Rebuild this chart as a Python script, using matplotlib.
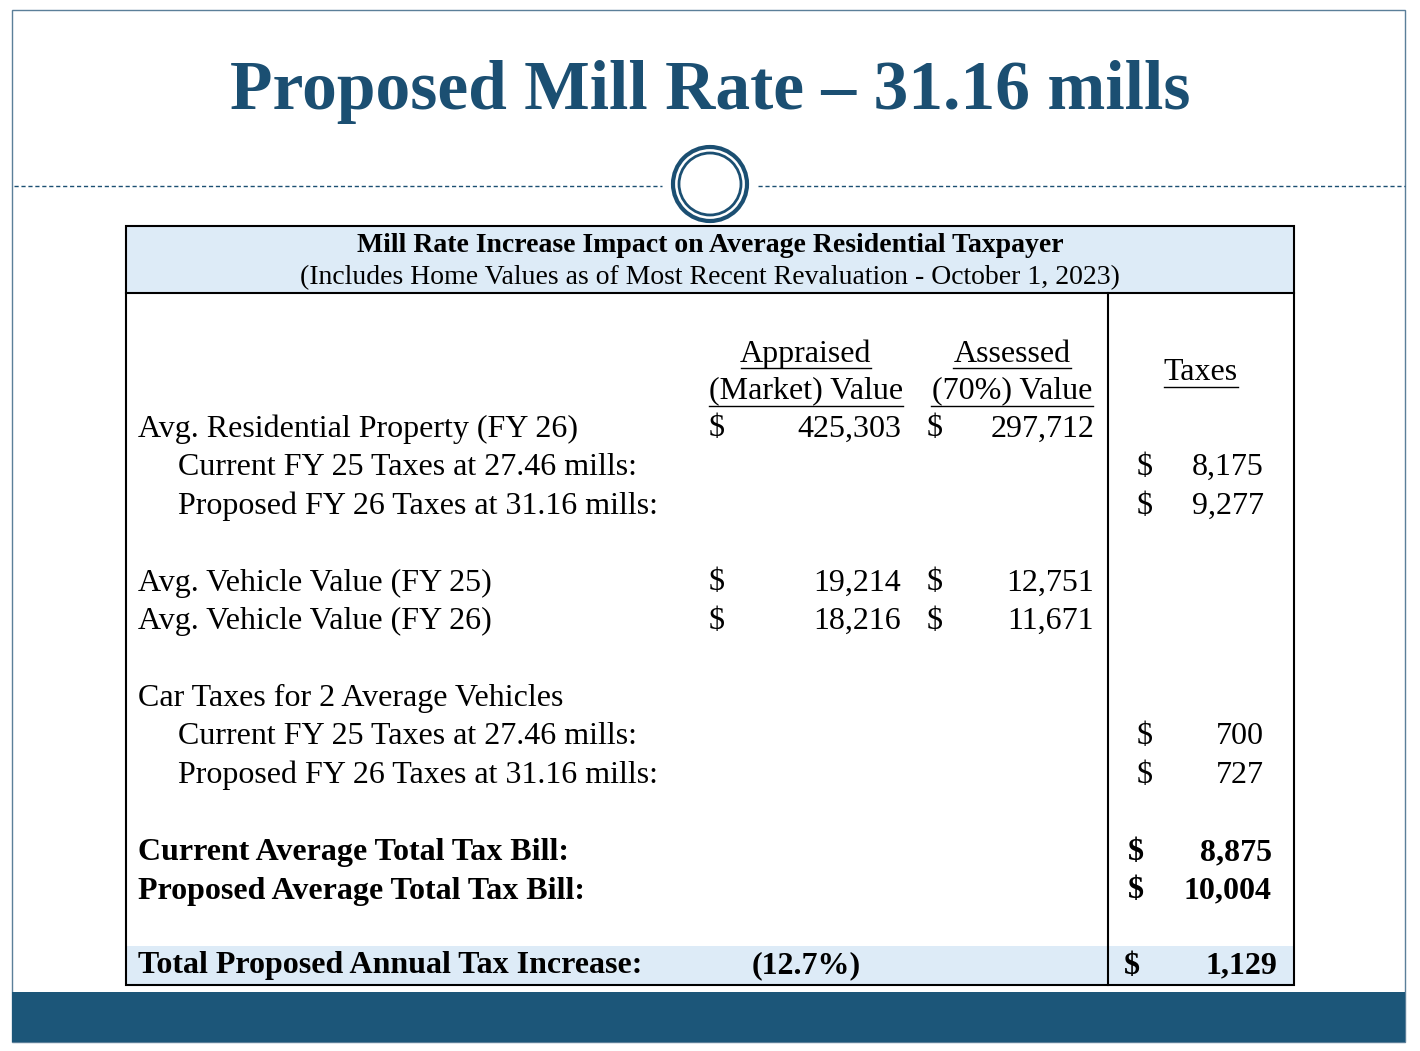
import matplotlib.pyplot as plt
from matplotlib.patches import Rectangle, Circle

plt.rcParams['font.family'] = ['Liberation Serif', 'DejaVu Serif']

title = "Proposed Mill Rate \u2013 31.16 mills"
table_head = "Mill Rate Increase Impact on Average Residential Taxpayer"
table_sub = "(Includes Home Values as of Most Recent Revaluation - October 1, 2023)"

# rows: (label, indent, appraised, assessed, taxes, bold)
rows = [
    ("Avg. Residential Property (FY 26)", 0, "425,303", "297,712", None, False),
    ("Current FY 25 Taxes at 27.46 mills:", 1, None, None, "8,175", False),
    ("Proposed FY 26 Taxes at 31.16 mills:", 1, None, None, "9,277", False),
    (None, 0, None, None, None, False),
    ("Avg. Vehicle Value (FY 25)", 0, "19,214", "12,751", None, False),
    ("Avg. Vehicle Value (FY 26)", 0, "18,216", "11,671", None, False),
    (None, 0, None, None, None, False),
    ("Car Taxes for 2 Average Vehicles", 0, None, None, None, False),
    ("Current FY 25 Taxes at 27.46 mills:", 1, None, None, "700", False),
    ("Proposed FY 26 Taxes at 31.16 mills:", 1, None, None, "727", False),
    (None, 0, None, None, None, False),
    ("Current Average Total Tax Bill:", 0, None, None, "8,875", True),
    ("Proposed Average Total Tax Bill:", 0, None, None, "10,004", True),
]
total_label = "Total Proposed Annual Tax Increase:"
total_pct = "(12.7%)"
total_value = "1,129"

navy = "#1B4F72"
band = "#1C5679"
light = "#DDEBF7"

fig = plt.figure(figsize=(14.2, 10.51), dpi=100)
ax = fig.add_axes([0, 0, 1, 1])
ax.set_xlim(0, 1420)
ax.set_ylim(1051, 0)
ax.axis("off")

ax.add_patch(Rectangle((12, 10), 1393, 1032, fill=False, ec="#5B7F99", lw=1))
ax.add_patch(Rectangle((12, 992), 1393, 50, color=band, lw=0))
ax.text(710, 92, title, ha="center", va="center", fontsize=50, fontweight="bold", color=navy)
ax.plot([14, 662], [186, 186], ls=(0, (3, 2)), color=navy, lw=1)
ax.plot([758, 1405], [186, 186], ls=(0, (3, 2)), color=navy, lw=1)
ax.add_patch(Circle((710, 184), 37, fill=False, ec=navy, lw=3))
ax.add_patch(Circle((710, 184), 31, fill=False, ec=navy, lw=2))

# table
ax.add_patch(Rectangle((126, 226), 1168, 67, color=light, lw=0))
ax.add_patch(Rectangle((126, 946), 1168, 39, color=light, lw=0))
ax.add_patch(Rectangle((126, 226), 1168, 759, fill=False, ec="black", lw=1.5))
ax.plot([126, 1294], [293, 293], color="black", lw=1.5)
ax.plot([1108, 1108], [293, 985], color="black", lw=1.5)
ax.text(710, 245, table_head, ha="center", va="center", fontsize=20, fontweight="bold")
ax.text(710, 278, table_sub, ha="center", va="center", fontsize=20)

fs = 23
ax.text(806, 354, "Appraised", ha="center", va="center", fontsize=fs)
ax.plot([741, 871], [368, 368], color="black", lw=1)
ax.text(806, 391, "(Market) Value", ha="center", va="center", fontsize=fs)
ax.plot([709, 903], [406, 406], color="black", lw=1)
ax.text(1012, 354, "Assessed", ha="center", va="center", fontsize=fs)
ax.plot([953, 1071], [368, 368], color="black", lw=1)
ax.text(1012, 391, "(70%) Value", ha="center", va="center", fontsize=fs)
ax.plot([931, 1093], [406, 406], color="black", lw=1)
ax.text(1201, 373, "Taxes", ha="center", va="center", fontsize=fs)
ax.plot([1164, 1238], [387, 387], color="black", lw=1)

y0, dy = 429, 38.5
for i, (lab, ind, appr, asse, tax, bold) in enumerate(rows):
    y = y0 + i * dy
    if lab is None:
        continue
    w = "bold" if bold else "normal"
    ax.text(138 + 40 * ind, y, lab, va="center", fontsize=fs, fontweight=w)
    if appr:
        ax.text(709, y, "$", va="center", fontsize=fs)
        ax.text(901, y, appr, ha="right", va="center", fontsize=fs)
    if asse:
        ax.text(927, y, "$", va="center", fontsize=fs)
        ax.text(1094, y, asse, ha="right", va="center", fontsize=fs)
    if tax:
        if bold:
            ax.text(1128, y, "$", va="center", fontsize=fs, fontweight=w)
            ax.text(1272, y, tax, ha="right", va="center", fontsize=fs, fontweight=w)
        else:
            ax.text(1137, y, "$", va="center", fontsize=fs)
            ax.text(1264, y, tax, ha="right", va="center", fontsize=fs)

yt = 966
ax.text(138, yt, total_label, va="center", fontsize=fs, fontweight="bold")
ax.text(806, yt, total_pct, ha="center", va="center", fontsize=fs, fontweight="bold")
ax.text(1124, yt, "$", va="center", fontsize=fs, fontweight="bold")
ax.text(1277, yt, total_value, ha="right", va="center", fontsize=fs, fontweight="bold")

fig.savefig("out.png", dpi=100)
